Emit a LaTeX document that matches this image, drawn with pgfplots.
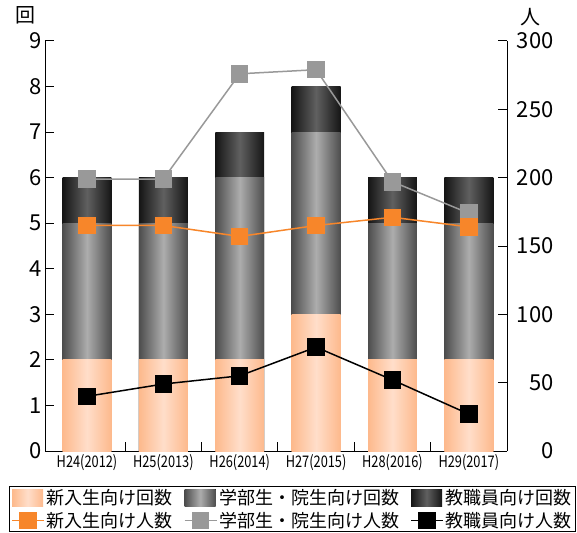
\documentclass[border=0pt]{standalone}
\usepackage{fontspec}
\setmainfont{Noto Sans CJK JP}
\newfontfamily\condensed[FakeStretch=0.8]{Noto Sans CJK JP}
\usepackage{pgfplots}
\usepackage{pgfplotstable}
\pgfplotsset{compat=1.18}

\definecolor{peachE}{HTML}{FDB98C}
\definecolor{peachC}{HTML}{FFDECA}
\definecolor{grayE}{HTML}{4D4D4D}
\definecolor{grayC}{HTML}{ADADAD}
\definecolor{darkE}{HTML}{151515}
\definecolor{darkC}{HTML}{606060}
\definecolor{lnOrange}{HTML}{F7862A}
\definecolor{lnGray}{HTML}{999999}

% sessions held per year (left axis)
\pgfplotstableread{
x new stud staff
0 2 3 1
1 2 3 1
2 2 4 1
3 3 4 1
4 2 3 1
5 2 3 1
}\counts

% participants per year (right axis)
\pgfplotstableread{
x new stud staff
0 165 199 40
1 165 199 49
2 157 276 55
3 165 279 76
4 171 197 52
5 164 174 27
}\people

\pgfplotsset{
  common/.style={
    at={(0,0)}, anchor=south west,
    scale only axis, width=462pt, height=410pt,
    xmin=-0.55, xmax=5.5,
    tick align=inside,
    major tick length=9pt, minor tick length=9pt,
    axis line style={black, line width=1pt},
    tick style={black, line width=1pt},
    /pgf/number format/assume math mode=true,
    tick label style={font=\fontsize{22}{22}\selectfont},
  },
  % one bar per plot, so that every bar gets its own horizontal gradient
  onebar/.style={ybar, bar width=0.64, bar shift=0pt, draw=none,
    restrict x to domain=#1:#1},
  peachfill/.style={left color=peachE, right color=peachE, middle color=peachC},
  grayfill/.style={left color=grayE, right color=grayE, middle color=grayC},
  darkfill/.style={left color=darkE, right color=darkE, middle color=darkC},
  barswatch/.style={legend image code/.code={\fill[##1] (0pt,-8.5pt) rectangle (31pt,8.5pt);}},
  lineswatch/.style={legend image code/.code={\draw[mark repeat=2,mark phase=2,##1] plot coordinates {(0pt,0pt) (16pt,0pt) (32pt,0pt)};}},
}

\begin{document}
\begin{tikzpicture}[x=1pt,y=1pt]
\useasboundingbox (-45,-81) rectangle (532,451);

\begin{axis}[common,
  ymin=0, ymax=9,
  axis y line*=left, axis x line*=bottom,
  xtick={0,...,5},
  xticklabels={H24(2012),H25(2013),H26(2014),H27(2015),H28(2016),H29(2017)},
  xticklabel style={font=\condensed\fontsize{16}{16}\selectfont},
  major x tick style={draw=none},
  minor xtick={0.5,1.5,...,4.5},
  ytick={0,...,9},
]
% stacked segments drawn back to front: full height, then lower two, then the lowest
\pgfplotsinvokeforeach{0,...,5}{
  \addplot[onebar=#1, darkfill] table[x=x, y expr=\thisrow{new}+\thisrow{stud}+\thisrow{staff}]{\counts};
  \addplot[onebar=#1, grayfill] table[x=x, y expr=\thisrow{new}+\thisrow{stud}]{\counts};
  \addplot[onebar=#1, peachfill] table[x=x, y=new]{\counts};
}
\end{axis}

\begin{axis}[common,
  ymin=0, ymax=300,
  axis y line*=right, axis x line=none,
  ytick={0,50,...,300},
  yticklabel style={anchor=east, xshift=50pt},
  legend columns=3,
  legend cell align=left,
  legend style={at={(axis description cs:0.536,-0.085)}, anchor=north,
    draw=black, line width=0.8pt,
    font=\fontsize{18}{18}\selectfont,
    inner xsep=2pt, inner ysep=1pt, row sep=2pt,
    /tikz/every even column/.append style={column sep=9pt}},
]
\addlegendimage{barswatch, draw=none, peachfill}
\addlegendentry{新入生向け回数}
\addlegendimage{barswatch, draw=none, grayfill}
\addlegendentry{学部生・院生向け回数}
\addlegendimage{barswatch, draw=none, darkfill}
\addlegendentry{教職員向け回数}
\addlegendimage{lineswatch, lnOrange, line width=1.5pt, mark=square*, mark size=8pt, mark options={draw=none, fill=lnOrange}}
\addlegendentry{新入生向け人数}
\addlegendimage{lineswatch, lnGray, line width=1.5pt, mark=square*, mark size=8pt, mark options={draw=none, fill=lnGray}}
\addlegendentry{学部生・院生向け人数}
\addlegendimage{lineswatch, black, line width=1.5pt, mark=square*, mark size=8pt, mark options={draw=none, fill=black}}
\addlegendentry{教職員向け人数}

\addplot[forget plot, lnGray, line width=1.5pt, mark=square*, mark size=8pt, mark options={draw=none, fill=lnGray}] table[x=x,y=stud]{\people};
\addplot[forget plot, lnOrange, line width=1.5pt, mark=square*, mark size=8pt, mark options={draw=none, fill=lnOrange}] table[x=x,y=new]{\people};
\addplot[forget plot, black, line width=1.5pt, mark=square*, mark size=8pt, mark options={draw=none, fill=black}] table[x=x,y=staff]{\people};
\end{axis}

\node[font=\fontsize{20}{20}\selectfont] at (-20,436) {回};
\node[font=\fontsize{20}{20}\selectfont] at (485,434) {人};
\end{tikzpicture}
\end{document}
